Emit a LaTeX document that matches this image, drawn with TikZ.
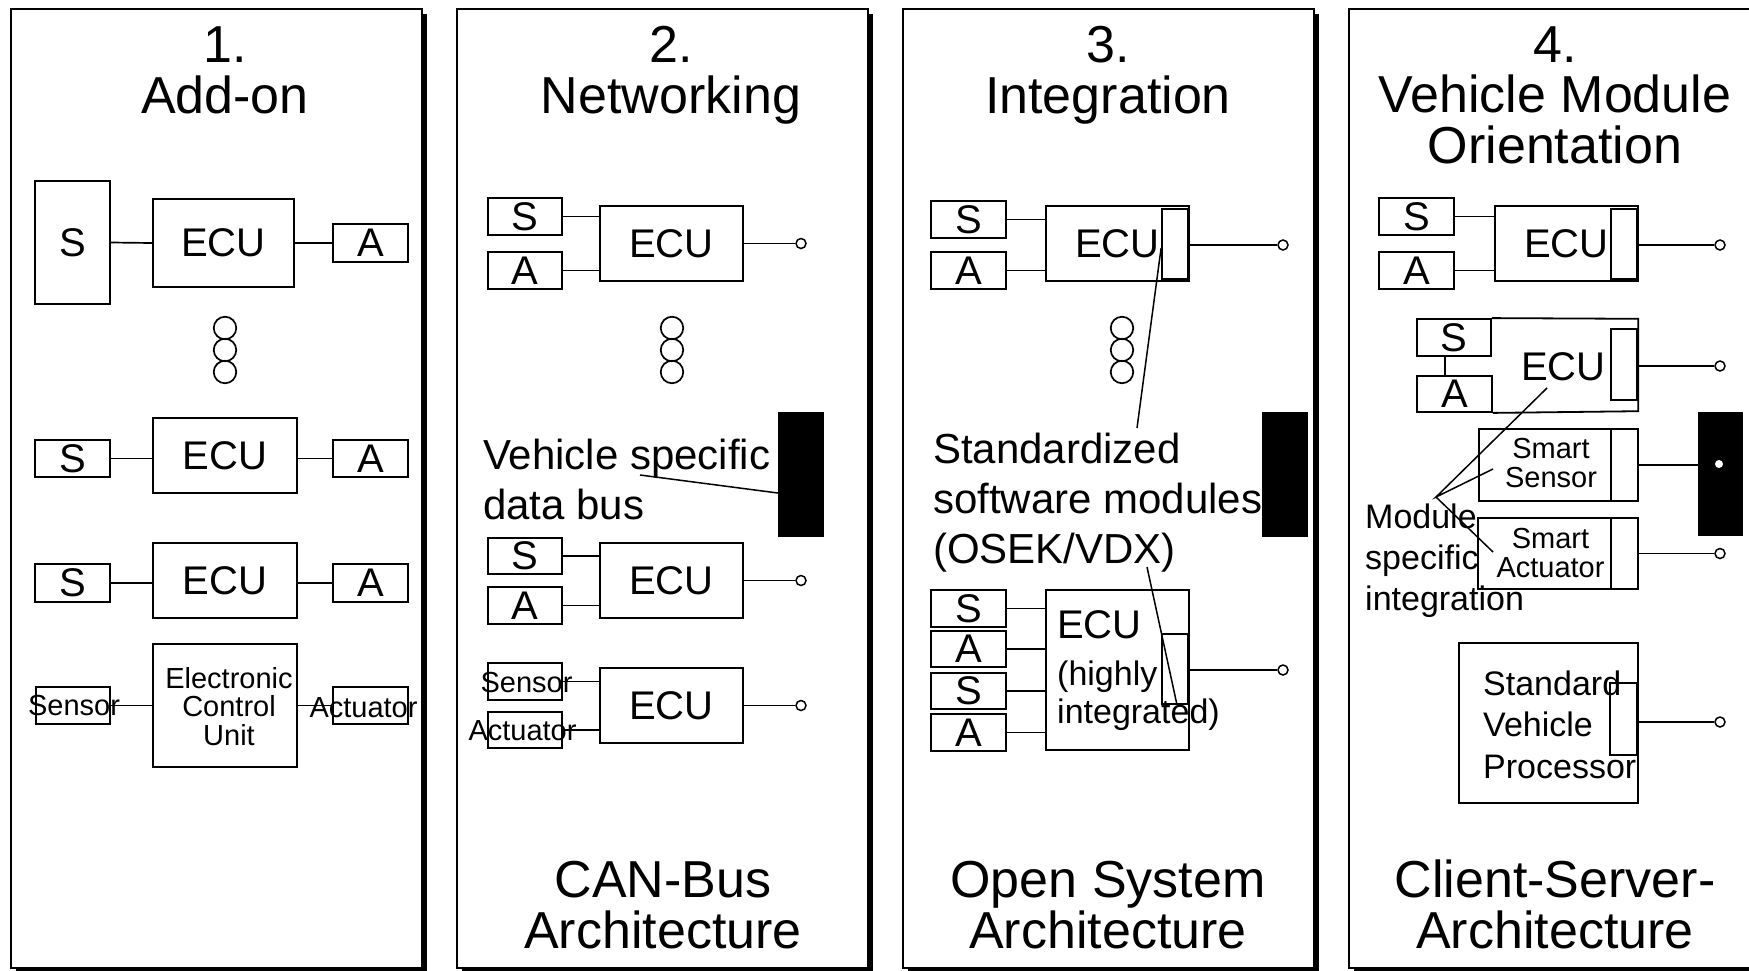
\documentclass[tikz,border=0pt]{standalone}
\usepackage{fontspec}
\setmainfont{Liberation Sans}
\usetikzlibrary{calc}

% a rectangle node given by its corners (x1,y1) and (x2,y2)
\newcommand\rectnode[7][box]{\node[#1,minimum width={(#5-#3)*1pt},minimum height={(#6-#4)*1pt}] (#2) at ({(#3+#5)/2},{(#4+#6)/2}) {#7};}

% multi-line nodes below are anchored at the baseline of their last line
\tikzset{
  panel/.style={draw, line width=2pt, fill=white},
  box/.style={draw, line width=1.8pt, inner sep=0pt, rectangle, font=\fontsize{40}{44}\selectfont},
  slot/.style={draw, line width=1.8pt, inner sep=0pt, rectangle},
  hollow/.style={inner sep=0pt, rectangle},
  bus/.style={fill=black, inner sep=0pt, rectangle},
  wire/.style={line width=1.7pt},
  ptr/.style={line width=1.5pt},
  term/.style={circle, draw, line width=1.5pt, minimum size=10pt, inner sep=0pt, fill=white},
  dots/.style={circle, draw, line width=1.7pt, minimum size=22.5pt, inner sep=0pt},
  title/.style={align=center, anchor=base, inner sep=0pt, font=\fontsize{52}{51}\selectfont},
  note/.style={align=left, anchor=base west, inner sep=0pt, font=\fontsize{42}{50}\selectfont},
  small/.style={font=\fontsize{29}{29}\selectfont},
}

\begin{document}
\begin{tikzpicture}[x=1pt,y=-1pt]
\clip (0,0) rectangle (1749,970);
\fill[white] (0,0) rectangle (1749,970);

% four panels with drop shadow
\foreach \l in {10.7,456.7,903.3,1349}{
  \fill[black] (\l+5,14) rectangle (\l+416,973);
  \draw[panel] (\l,9) rectangle (\l+411,968);
}

% ---------- 1. Add-on ----------
\node[title] (t1) at (225,113) {1.\\Add-on};
\rectnode{p1s1}{35}{181}{110}{304}{S}
\rectnode{p1e1}{153}{199}{294}{287}{ECU}
\rectnode{p1a1}{333}{224}{408}{262}{A}
\draw[wire] (p1s1.east) -- (p1e1.west);
\draw[wire] (p1e1.east) -- (p1a1.west);
\node[dots] (p1d1) at (225,328) {};
\node[dots] (p1d2) at (225,350) {};
\node[dots] (p1d3) at (225,372) {};
\rectnode{p1s2}{35}{440}{110}{477}{S}
\rectnode{p1e2}{153}{418}{297}{493}{ECU}
\rectnode{p1a2}{333}{440}{408}{477}{A}
\draw[wire] (p1s2.east) -- (p1s2.east -| p1e2.west);
\draw[wire] (p1a2.west) -- (p1a2.west -| p1e2.east);
\rectnode{p1s3}{35}{564}{110}{602}{S}
\rectnode{p1e3}{153}{543}{297}{618}{ECU}
\rectnode{p1a3}{333}{564}{408}{602}{A}
\draw[wire] (p1s3.east) -- (p1s3.east -| p1e3.west);
\draw[wire] (p1a3.west) -- (p1a3.west -| p1e3.east);
\rectnode{p1sen}{36}{687}{110}{724}{}
\rectnode{p1ecu}{153}{644}{297}{767}{}
\rectnode{p1act}{333}{687}{408}{724}{}
\draw[wire] (p1sen.east) -- (p1sen.east -| p1ecu.west);
\draw[wire] (p1act.west) -- (p1act.west -| p1ecu.east);
\node[small, align=center, anchor=base, inner sep=0pt] (p1ecut) at (229,745) {Electronic\\[-0.5pt]Control\\[-0.5pt]Unit};
\node[small, anchor=base, inner sep=0pt] (p1sent) at (74,715) {Sensor};
\node[small, anchor=base, inner sep=0pt] (p1actt) at (363.5,717) {Actuator};

% ---------- 2. Networking ----------
\node[title] (t2) at (671,113) {2.\\Networking};
\rectnode{p2s1}{488}{198}{562}{235}{S}
\rectnode{p2a1}{488}{252}{562}{289}{A}
\rectnode{p2e1}{600}{206}{743}{281}{ECU}
\draw[wire] (p2s1.east) -- (p2s1.east -| p2e1.west);
\draw[wire] (p2a1.east) -- (p2a1.east -| p2e1.west);
\node[term] (p2o1) at (801,243.5) {};
\draw[wire] (p2e1.east) -- (p2o1.west);
\node[dots] (p2d1) at (672,328) {};
\node[dots] (p2d2) at (672,350) {};
\node[dots] (p2d3) at (672,372) {};
\rectnode[bus]{p2bus}{778}{412}{824}{537}{}
\node[note] (p2note) at (483,519) {Vehicle specific\\data bus};
\coordinate (p2pa) at (640,475);
\draw[ptr] (p2pa) -- ([yshift=-18.5pt]p2bus.west);
\rectnode{p2s2}{488}{538}{562}{574}{S}
\rectnode{p2a2}{488}{587}{562}{624}{A}
\rectnode{p2e2}{600}{543}{743}{618}{ECU}
\draw[wire] (p2s2.east) -- (p2s2.east -| p2e2.west);
\draw[wire] (p2a2.east) -- (p2a2.east -| p2e2.west);
\node[term] (p2o2) at (801,580.5) {};
\draw[wire] (p2e2.east) -- (p2o2.west);
\rectnode{p2sen}{488}{663}{562}{700}{}
\rectnode{p2act}{488}{712}{562}{748}{}
\rectnode{p2e3}{600}{668}{743}{743}{ECU}
\draw[wire] (p2sen.east) -- (p2sen.east -| p2e3.west);
\draw[wire] (p2act.east) -- (p2act.east -| p2e3.west);
\node[term] (p2o3) at (801,705.5) {};
\draw[wire] (p2e3.east) -- (p2o3.west);
\node[small, anchor=base, inner sep=0pt] (p2sent) at (526.5,692) {Sensor};
\node[small, anchor=base, inner sep=0pt] (p2actt) at (522.5,740) {Actuator};
\node[title] (b2) at (663,948) {CAN-Bus\\Architecture};

% ---------- 3. Integration ----------
\node[title] (t3) at (1108,113) {3.\\Integration};
\rectnode{p3s1}{931}{201}{1006}{238}{S}
\rectnode{p3a1}{931}{252}{1006}{289}{A}
\rectnode{p3e1}{1046}{206}{1189}{281}{ECU}
\rectnode[slot]{p3m1}{1162}{209}{1188}{279}{}
\draw[wire] (p3s1.east) -- (p3s1.east -| p3e1.west);
\draw[wire] (p3a1.east) -- (p3a1.east -| p3e1.west);
\node[term] (p3o1) at (1283,245) {};
\draw[wire] (p3e1.east |- p3o1) -- (p3o1.west);
\node[dots] (p3d1) at (1122,328) {};
\node[dots] (p3d2) at (1122,350) {};
\node[dots] (p3d3) at (1122,372) {};
\rectnode[bus]{p3bus}{1262}{412}{1308}{537}{}
\node[note] (p3note) at (933,563) {Standardized\\software modules\\(OSEK/VDX)};
\coordinate (p3pa) at (1137,428);
\draw[ptr] ([yshift=-4pt]p3m1.west) -- (p3pa);
\rectnode{p3s2}{931}{590}{1006}{627}{S}
\rectnode{p3a2}{931}{631}{1006}{667}{A}
\rectnode{p3s3}{931}{673}{1006}{709}{S}
\rectnode{p3a3}{931}{714}{1006}{751}{A}
\rectnode{p3e2}{1046}{590}{1189}{750}{}
\rectnode[slot]{p3m2}{1162}{634}{1188}{704}{}
\foreach \n in {p3s2,p3a2,p3s3,p3a3}
  \draw[wire] (\n.east) -- (\n.east -| p3e2.west);
\node[term] (p3o2) at (1283,670) {};
\draw[wire] (p3e2.east) -- (p3o2.west);
\node[anchor=base west, inner sep=0pt, font=\fontsize{40}{44}\selectfont] (p3ecut) at (1057,638) {ECU};
\node[anchor=base west, align=left, inner sep=0pt, font=\fontsize{34}{38}\selectfont] (p3hi) at (1057,723) {(highly\\integrated)};
\coordinate (p3pb) at (1147,567);
\draw[ptr] (p3pb) -- ([xshift=2pt]p3m2.south);
\node[title] (b3) at (1108,948) {Open System\\Architecture};

% ---------- 4. Vehicle Module Orientation ----------
\node[title, font=\fontsize{52}{50.5}\selectfont] (t4) at (1555,163) {4.\\Vehicle Module\\Orientation};
\rectnode{p4s1}{1379}{198}{1454}{235}{S}
\rectnode{p4a1}{1379}{252}{1454}{289}{A}
\rectnode{p4e1}{1495}{206}{1638}{281}{ECU}
\rectnode[slot]{p4m1}{1611}{209}{1637}{279}{}
\draw[wire] (p4s1.east) -- (p4s1.east -| p4e1.west);
\draw[wire] (p4a1.east) -- (p4a1.east -| p4e1.west);
\node[term] (p4o1) at (1720,245) {};
\draw[wire] (p4e1.east |- p4o1) -- (p4o1.west);

% ECU with built-in sensor and actuator: outline open on the left
\rectnode[hollow]{p4e2}{1417}{319}{1638}{411}{}
\rectnode{p4s2}{1417}{319}{1491}{356}{S}
\rectnode{p4a2}{1417}{376}{1492}{412}{A}
\draw[line width=1.8pt] (p4s2.north east) -- (p4e2.north east) -- (p4e2.south east) -- (p4a2.south east);
\rectnode[slot]{p4m2}{1611}{329}{1637}{400}{}
\draw[wire] ([xshift=-9pt]p4s2.south) -- ([xshift=-9pt]p4s2.south |- p4a2.north);
\node[inner sep=0pt, font=\fontsize{40}{44}\selectfont, anchor=base] (p4ecut) at (1563.5,380) {ECU};
\node[term] (p4o2) at (1720,366) {};
\draw[wire] (p4e2.east |- p4o2) -- (p4o2.west);

\rectnode[slot]{p4ss}{1479}{429}{1638}{501}{}
\rectnode[slot]{p4m3}{1611}{429}{1638}{501}{}
\node[small, align=center, anchor=base, inner sep=0pt] (p4sst) at (1551,487) {Smart\\Sensor};
\rectnode[bus]{p4bus}{1698}{412}{1743}{536}{}
\node[circle, fill=white, minimum size=8pt, inner sep=0pt] (p4bd) at (1719,464) {};
\draw[wire] (p4ss.east) -- (p4ss.east -| p4bus.west);

\rectnode[slot]{p4sa}{1478}{518}{1638}{589}{}
\rectnode[slot]{p4m4}{1611}{518}{1638}{589}{}
\node[small, align=center, anchor=base, inner sep=0pt] (p4sat) at (1550.5,577) {Smart\\Actuator};
\node[term] (p4o3) at (1720,553.5) {};
\draw[wire] (p4sa.east) -- (p4o3.west);

\node[anchor=base west, align=left, inner sep=0pt, font=\fontsize{34}{41}\selectfont] (p4note) at (1365,610) {Module\\specific\\integration};
\coordinate (p4apex) at (1436,497);
\coordinate (p4pe) at (1547,388);
\coordinate (p4ps) at (1493,469);
\coordinate (p4pa) at (1493,552);
\draw[ptr] (p4pe) -- (p4apex) -- (p4ps);
\draw[ptr] (p4apex) -- (p4pa);

\rectnode[slot]{p4svp}{1459}{643}{1638}{803}{}
\rectnode[slot]{p4m5}{1610}{683}{1637}{755}{}
\node[anchor=base west, align=left, inner sep=0pt, font=\fontsize{34}{41.5}\selectfont] (p4svpt) at (1483,778) {Standard\\Vehicle\\Processor};
\node[term] (p4o4) at (1720,722) {};
\draw[wire] (p4svp.east |- p4o4) -- (p4o4.west);
\node[title] (b4) at (1555,948) {Client-Server-\\Architecture};
\end{tikzpicture}
\end{document}
